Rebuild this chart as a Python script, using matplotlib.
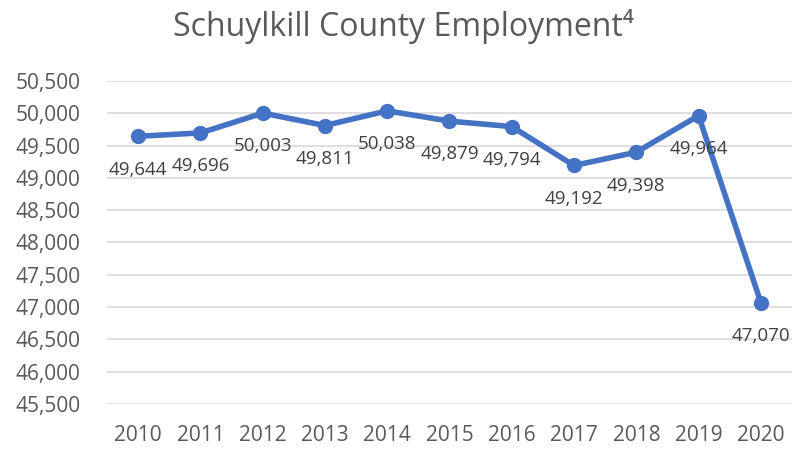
import matplotlib
matplotlib.use("Agg")
import matplotlib.pyplot as plt
from matplotlib.ticker import FuncFormatter

plt.rcParams['font.family'] = ['Open Sans', 'DejaVu Sans']

years = ['2010', '2011', '2012', '2013', '2014', '2015', '2016', '2017', '2018', '2019', '2020']
employment = [49644, 49696, 50003, 49811, 50038, 49879, 49794, 49192, 49398, 49964, 47070]

fig = plt.figure(figsize=(8.03, 4.49), dpi=100)
ax = fig.add_axes([107 / 803, 1 - 404 / 449, 685 / 803, 323 / 449])

x = list(range(len(years)))
ax.plot(x, employment, color='#4472C4', linewidth=4, marker='o', markersize=10,
        solid_capstyle='round', zorder=3)

# data labels below each point
for xi, v in zip(x, employment):
    ax.annotate(f'{v:,}', (xi, v), xytext=(0, -24), textcoords='offset points',
                ha='center', va='center', fontsize=13.5, color='#404040')

ax.set_xlim(-0.5, len(years) - 0.5)
ax.set_ylim(45500, 50500)
ax.set_yticks(range(45500, 50501, 500))
ax.yaxis.set_major_formatter(FuncFormatter(lambda v, p: f'{int(v):,}'))
ax.set_xticks(x)
ax.set_xticklabels(years)

ax.grid(axis='y', color='#D9D9D9', linewidth=1.2)
ax.set_axisbelow(True)
for s in ax.spines.values():
    s.set_visible(False)
ax.tick_params(axis='y', length=0, pad=19, labelsize=15, labelcolor='#595959')
ax.tick_params(axis='x', length=0, pad=15, labelsize=15, labelcolor='#595959')

fig.text(403 / 803, 1 - 27 / 449, 'Schuylkill County Employment⁴', ha='center', va='center',
         fontsize=23, color='#595959')

fig.savefig('out.png', dpi=100)
